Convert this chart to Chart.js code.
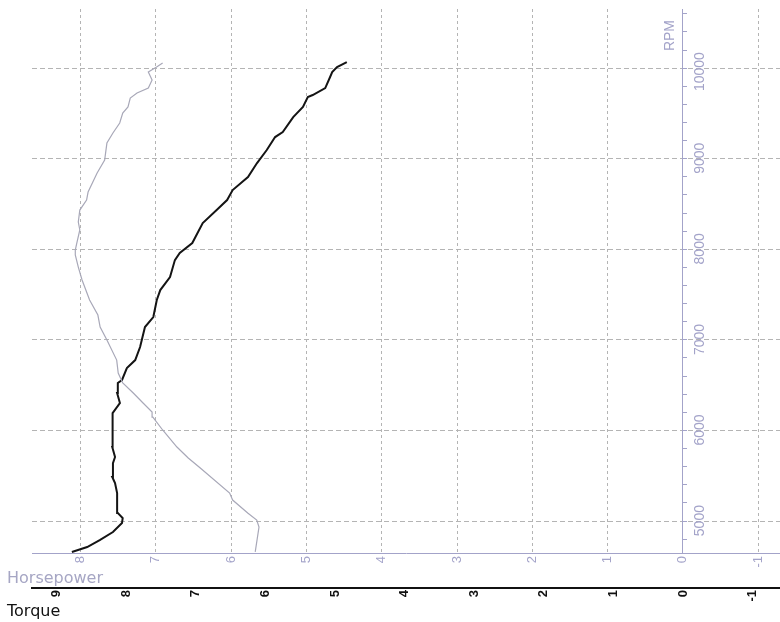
<!DOCTYPE html>
<html>
<head>
<meta charset="utf-8">
<title>Dyno run</title>
<script src="https://cdn.jsdelivr.net/npm/chart.js@4.4.1/dist/chart.umd.min.js"></script>
<style>
  html, body { margin: 0; padding: 0; background: #fff; overflow: hidden; }
  #wrap { width: 780px; height: 622px; }
  canvas { display: block; }
</style>
</head>
<body>
<div id="wrap"><canvas id="dyno" width="780" height="622"></canvas></div>
<script>
// tick labels
const rpmTicks = [5000, 6000, 7000, 8000, 9000, 10000];
const hpTicks = [-1, 0, 1, 2, 3, 4, 5, 6, 7, 8];
const tqTicks = [-1, 0, 1, 2, 3, 4, 5, 6, 7, 8, 9];
const rpmTitle = 'RPM';

// horsepower curve
const hpRpm = [4660, 4934, 5011, 5088, 5232, 5309, 5585, 5696, 5817, 6005,
  6148, 6203, 6303, 6413, 6524, 6634, 6777, 6998, 7142, 7274,
  7440, 7661, 7804, 7937, 7992, 8069, 8213, 8301, 8433, 8544,
  8632, 8842, 8985, 9173, 9284, 9394, 9504, 9571, 9670, 9725,
  9780, 9869, 9957, 10012, 10056];
const hpValues = [5.68, 5.63, 5.66, 5.78, 5.98, 6.02, 6.41, 6.57, 6.72, 6.91,
  7.04, 7.05, 7.17, 7.30, 7.44, 7.50, 7.52, 7.65, 7.74, 7.77,
  7.88, 7.98, 8.03, 8.07, 8.07, 8.05, 8.01, 8.03, 8.01, 7.92,
  7.90, 7.78, 7.68, 7.65, 7.57, 7.48, 7.44, 7.37, 7.34, 7.25,
  7.10, 7.05, 7.10, 6.99, 6.91];

// torque curve
const tqRpm = [4658, 4713, 4790, 4879, 4978, 5033, 5088, 5309, 5420, 5486,
  5640, 5707, 5817, 6082, 6192, 6303, 6413, 6524, 6557, 6689,
  6777, 6921, 7142, 7252, 7440, 7550, 7694, 7881, 7959, 8069,
  8290, 8433, 8544, 8654, 8798, 8952, 9096, 9239, 9295, 9460,
  9571, 9681, 9703, 9780, 9902, 9957, 10012, 10067];
const tqValues = [8.78, 8.56, 8.38, 8.19, 8.06, 8.05, 8.12, 8.13, 8.16, 8.20,
  8.19, 8.16, 8.20, 8.20, 8.19, 8.09, 8.13, 8.12, 8.06, 7.99,
  7.87, 7.80, 7.73, 7.61, 7.56, 7.51, 7.37, 7.30, 7.23, 7.05,
  6.90, 6.70, 6.55, 6.47, 6.25, 6.12, 5.98, 5.86, 5.75, 5.60,
  5.46, 5.39, 5.32, 5.14, 5.07, 5.04, 4.97, 4.83];

const lav = '#a3a3c9';
const gridGray = '#b4b4b4';
const font = 'Liberation Sans, Arial, sans-serif';

// minor tick marks on the RPM axis, every 200 rpm
const minorRpm = [];
for (let r = 4800; r <= 10600; r += 200) minorRpm.push(r);

const toPts = (ys, xs) => ys.map((r, i) => ({ x: xs[i], y: r }));
const fixedTicks = (list) => (s) => { s.ticks = list.map(v => ({ value: v })); };
const isMajor = c => c.tick && rpmTicks.includes(c.tick.value);

// axis that only carries a title, full canvas width, no height of its own
const titleAxis = (text, color, lift) => ({
    type: 'linear', position: 'bottom', fullSize: true,
    afterFit: s => { s.height = 0; },
    grid: { display: false }, border: { display: false },
    ticks: { display: false },
    title: { display: true, text: text, align: 'start', color: color,
             font: { family: 'DejaVu Sans', size: 16 }, padding: { top: 0, bottom: lift } }
});

new Chart(document.getElementById('dyno'), {
    type: 'scatter',
    data: {
        datasets: [
            { label: 'Horsepower', data: toPts(hpRpm, hpValues), xAxisID: 'x', yAxisID: 'y',
              showLine: true, borderColor: '#a8a8b8', borderWidth: 1.2, pointRadius: 0, tension: 0 },
            { label: 'Torque', data: toPts(tqRpm, tqValues), xAxisID: 'x2', yAxisID: 'y',
              showLine: true, borderColor: '#141414', borderWidth: 2, pointRadius: 0, tension: 0 }
        ]
    },
    options: {
        responsive: false,
        animation: false,
        layout: { padding: { top: 9, left: 7, right: 0, bottom: 0 } },
        plugins: { legend: { display: false }, tooltip: { enabled: false } },
        scales: {
            x: {
                type: 'linear', position: 'bottom', reverse: true, min: -1.29, max: 8.645,
                afterBuildTicks: fixedTicks(hpTicks),
                afterFit: s => { s.height = 35; },
                grid: {
                    drawTicks: false,
                    color: c => (c.tick && c.tick.value === 0) ? lav : gridGray,
                    lineWidth: 1
                },
                border: { display: true, color: lav, width: 1,
                          dash: c => (c.tick && c.tick.value !== 0) ? [3, 3] : [] },
                ticks: { autoSkip: false, minRotation: 90, maxRotation: 90, padding: 3,
                         color: lav, font: { family: font, size: 13 } }
            },
            x2: {
                type: 'linear', position: 'bottom', reverse: true, min: -1.394, max: 9.353,
                afterBuildTicks: fixedTicks(tqTicks),
                afterFit: s => { s.height = 34; },
                grid: { display: false, drawTicks: false },
                border: { display: true, color: '#111', width: 2 },
                ticks: { autoSkip: false, minRotation: 90, maxRotation: 90, padding: 2,
                         color: '#111', font: { family: font, size: 13, weight: 'bold' } }
            },
            hpTitle: titleAxis('Horsepower', '#a6a6c4', 34),
            tqTitle: titleAxis('Torque', '#111', 1),
            ySpace: {
                type: 'linear', position: 'left',
                afterFit: s => { s.width = 25; },
                grid: { display: false }, border: { display: false }, ticks: { display: false }
            },
            y: {
                type: 'linear', position: { x: 0 }, min: 4647, max: 10653,
                afterBuildTicks: fixedTicks(minorRpm),
                ticks: { display: false },
                grid: {
                    tickLength: -5,
                    tickColor: lav,
                    color: c => isMajor(c) ? gridGray : 'rgba(0,0,0,0)'
                },
                border: { display: true, color: lav, width: 1,
                          dash: c => c.tick ? [5, 3] : [] }
            },
            yl: {
                type: 'linear', position: { x: -0.23 }, min: 4647, max: 10653,
                afterBuildTicks: fixedTicks(rpmTicks),
                grid: { display: false }, border: { display: false },
                ticks: { minRotation: 90, maxRotation: 90, padding: 0, labelOffset: -16,
                         color: lav, font: { family: font, size: 14 }, callback: v => String(v) }
            },
            yt: {
                type: 'linear', position: { x: 0.17 }, min: 4647, max: 10653,
                afterBuildTicks: fixedTicks([10366]),
                grid: { display: false }, border: { display: false },
                ticks: { minRotation: 90, maxRotation: 90, padding: 0, labelOffset: -15,
                         color: lav, font: { family: font, size: 14 }, callback: () => rpmTitle }
            }
        }
    }
});
</script>
</body>
</html>
